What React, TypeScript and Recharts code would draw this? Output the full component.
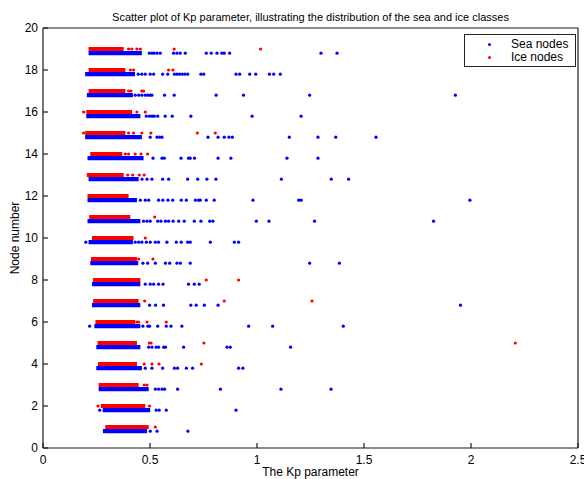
import { Legend, ReferenceLine, Scatter, ScatterChart, XAxis, YAxis } from "recharts";

const nodes = [1, 2, 3, 4, 5, 6, 7, 8, 9, 10, 11, 12, 13, 14, 15, 16, 17, 18, 19];
const seaShift = -0.2;

// dense core of each row: [from, to] on the Kp axis, node 1 first
const seaBands: [number, number][] = [
  [0.28, 0.486], [0.279, 0.501], [0.26, 0.494], [0.249, 0.462], [0.249, 0.455],
  [0.24, 0.455], [0.229, 0.455], [0.229, 0.455], [0.221, 0.445], [0.213, 0.42],
  [0.208, 0.455], [0.208, 0.439], [0.213, 0.447], [0.208, 0.47], [0.197, 0.462],
  [0.202, 0.455], [0.205, 0.42], [0.197, 0.43], [0.213, 0.462],
];
const iceBands: [number, number][] = [
  [0.291, 0.494], [0.271, 0.478], [0.26, 0.447], [0.257, 0.439], [0.255, 0.439],
  [0.245, 0.431], [0.234, 0.447], [0.234, 0.455], [0.224, 0.439], [0.229, 0.423],
  [0.216, 0.408], [0.208, 0.4], [0.205, 0.377], [0.221, 0.37], [0.197, 0.385],
  [0.202, 0.416], [0.213, 0.385], [0.213, 0.385], [0.213, 0.377],
];

// scattered points outside the core
const seaDots: number[][] = [
  [0.501, 0.533, 0.677],
  [0.265, 0.529, 0.543, 0.576, 0.902],
  [0.525, 0.54, 0.556, 0.568, 0.629, 0.829, 1.112, 1.346],
  [0.478, 0.509, 0.559, 0.614, 0.629, 0.67, 0.699, 0.914, 0.934],
  [0.494, 0.509, 0.529, 0.54, 0.564, 0.572, 0.657, 0.86, 0.875, 1.157],
  [0.218, 0.467, 0.49, 0.498, 0.536, 0.576, 0.598, 0.649, 0.961, 1.073, 1.403],
  [0.498, 0.526, 0.563, 0.691, 0.716, 0.754, 0.818, 1.951],
  [0.478, 0.501, 0.517, 0.54, 0.561, 0.68, 0.707, 0.73],
  [0.467, 0.489, 0.525, 0.572, 0.592, 0.626, 0.642, 0.688, 1.246, 1.385],
  [0.2, 0.431, 0.447, 0.462, 0.483, 0.501, 0.525, 0.54, 0.579, 0.623, 0.646, 0.676, 0.688, 0.782, 0.894, 0.914],
  [0.47, 0.486, 0.501, 0.536, 0.551, 0.572, 0.587, 0.608, 0.634, 0.66, 0.707, 0.738, 0.779, 0.794, 0.997, 1.056, 1.269, 1.825],
  [0.455, 0.478, 0.494, 0.54, 0.56, 0.584, 0.606, 0.646, 0.67, 0.712, 0.727, 0.735, 0.763, 0.8, 0.981, 1.195, 1.206, 1.995],
  [0.463, 0.486, 0.509, 0.559, 0.587, 0.676, 0.723, 0.766, 0.808, 1.114, 1.347, 1.428],
  [0.514, 0.556, 0.567, 0.645, 0.68, 0.688, 0.708, 0.818, 0.878, 1.14, 1.285],
  [0.501, 0.533, 0.545, 0.556, 0.771, 0.818, 0.847, 0.869, 0.885, 1.151, 1.285, 1.368, 1.556],
  [0.483, 0.498, 0.51, 0.52, 0.536, 0.571, 0.604, 0.691, 0.977, 1.206],
  [0.431, 0.447, 0.462, 0.478, 0.49, 0.501, 0.509, 0.568, 0.613, 0.809, 0.937, 1.246, 1.927],
  [0.445, 0.462, 0.478, 0.501, 0.517, 0.559, 0.583, 0.614, 0.626, 0.638, 0.651, 0.663, 0.676, 0.738, 0.751, 0.902, 0.919, 0.966, 0.994, 1.058, 1.078, 1.109],
  [0.497, 0.509, 0.52, 0.533, 0.548, 0.61, 0.626, 0.641, 0.665, 0.763, 0.786, 0.813, 0.836, 0.847, 0.872, 1.299, 1.374],
];
const iceDots: number[][] = [
  [0.525],
  [0.257, 0.498],
  [0.473, 0.486],
  [0.473, 0.509, 0.542, 0.74],
  [0.497, 0.505, 0.752, 2.207],
  [0.439, 0.447, 0.486, 0.576],
  [0.475, 0.847, 1.257],
  [0.763, 0.914],
  [0.447, 0.514],
  [0.478],
  [0.522],
  [],
  [0.396, 0.419, 0.45, 0.473],
  [0.385, 0.4, 0.431, 0.458, 0.489],
  [0.19, 0.4, 0.423, 0.462, 0.504, 0.721, 0.805],
  [0.19, 0.439, 0.478],
  [0.4, 0.411, 0.462, 0.47],
  [0.408, 0.423, 0.587, 0.607],
  [0.4, 0.415, 0.439, 0.455, 0.613, 1.017],
];

const xTicks = [0, 0.5, 1, 1.5, 2, 2.5];
const yTicks = [0, 2, 4, 6, 8, 10, 12, 14, 16, 18, 20];
const seriesNames = ["Sea nodes", "Ice nodes"];

const SEA = "#0000ff";
const ICE = "#ff0000";
const FONT = '"Liberation Sans", Arial, sans-serif';
const AXIS = "#1a1a1a";

const seaData = nodes.flatMap((n, i) => seaDots[i].map((x) => ({ x, y: n + seaShift })));
const iceData = nodes.flatMap((n, i) => iceDots[i].map((x) => ({ x, y: n })));

const dot = (color: string) => (p: any) => <circle cx={p.cx} cy={p.cy} r={1.6} fill={color} />;

function LegendBox() {
  return (
    <div style={{ position: "relative", width: 110, height: 31, border: "1px solid #222", background: "#fff", fontFamily: FONT, fontSize: 12, color: "#000" }}>
      {seriesNames.map((name, i) => (
        <div key={name} style={{ position: "absolute", left: 0, top: 3 + i * 13, height: 13, lineHeight: "13px", width: "100%" }}>
          <span style={{ position: "absolute", left: 23, top: 5, width: 3, height: 3, borderRadius: 2, background: i === 0 ? SEA : ICE }} />
          <span style={{ position: "absolute", left: 46 }}>{name}</span>
        </div>
      ))}
    </div>
  );
}

export default function App() {
  const axisLine = { stroke: AXIS, strokeWidth: 1.2 };
  return (
    <div style={{ position: "absolute", left: 0, top: 0, width: 584, height: 479, background: "#fff", fontFamily: FONT }}>
      <ScatterChart width={584} height={479} margin={{ top: 27, right: 5, bottom: 30, left: 42 }}>
        <XAxis type="number" dataKey="x" domain={[0, 2.5]} ticks={xTicks} interval={0} height={1}
          tickSize={-5} tickMargin={12} axisLine={axisLine} tickLine={axisLine}
          tick={{ fill: "#000", fontSize: 12, fontFamily: FONT }} allowDataOverflow />
        <XAxis xAxisId="top" orientation="top" type="number" domain={[0, 2.5]} ticks={xTicks} interval={0}
          height={1} tickSize={-5} axisLine={axisLine} tickLine={axisLine} tick={false} />
        <YAxis type="number" dataKey="y" domain={[0, 20]} ticks={yTicks} interval={0} width={1}
          tickSize={-5} tickMargin={10} axisLine={axisLine} tickLine={axisLine}
          tick={{ fill: "#000", fontSize: 12, fontFamily: FONT }} allowDataOverflow />
        <YAxis yAxisId="right" orientation="right" type="number" domain={[0, 20]} ticks={yTicks} interval={0}
          width={1} tickSize={-5} axisLine={axisLine} tickLine={axisLine} tick={false} />
        {nodes.map((n, i) => (
          <ReferenceLine key={"s" + n} segment={[{ x: seaBands[i][0], y: n + seaShift }, { x: seaBands[i][1], y: n + seaShift }]}
            stroke={SEA} strokeWidth={4.2} ifOverflow="visible" />
        ))}
        {nodes.map((n, i) => (
          <ReferenceLine key={"i" + n} segment={[{ x: iceBands[i][0], y: n }, { x: iceBands[i][1], y: n }]}
            stroke={ICE} strokeWidth={4.2} ifOverflow="visible" />
        ))}
        <Scatter name={seriesNames[0]} data={seaData} fill={SEA} shape={dot(SEA)} isAnimationActive={false} />
        <Scatter name={seriesNames[1]} data={iceData} fill={ICE} shape={dot(ICE)} isAnimationActive={false} />
        <Legend layout="vertical" align="center" verticalAlign="middle" content={() => <LegendBox />}
          wrapperStyle={{ left: 464, top: 34, width: 112, height: 33 }} />
      </ScatterChart>
      <div style={{ position: "absolute", left: 43, top: 10, width: 535, textAlign: "center", fontSize: 11, lineHeight: "14px", color: "#000" }}>
        Scatter plot of Kp parameter, illustrating the distribution of the sea and ice classes
      </div>
      <div style={{ position: "absolute", left: 43, top: 465, width: 535, textAlign: "center", fontSize: 12, lineHeight: "14px", color: "#000" }}>
        The Kp parameter
      </div>
      <div style={{ position: "absolute", left: 15, top: 238, width: 0, height: 0 }}>
        <div style={{ position: "absolute", left: -60, top: -7, width: 120, textAlign: "center", fontSize: 12, lineHeight: "14px", color: "#000", transform: "rotate(-90deg)" }}>
          Node number
        </div>
      </div>
    </div>
  );
}
